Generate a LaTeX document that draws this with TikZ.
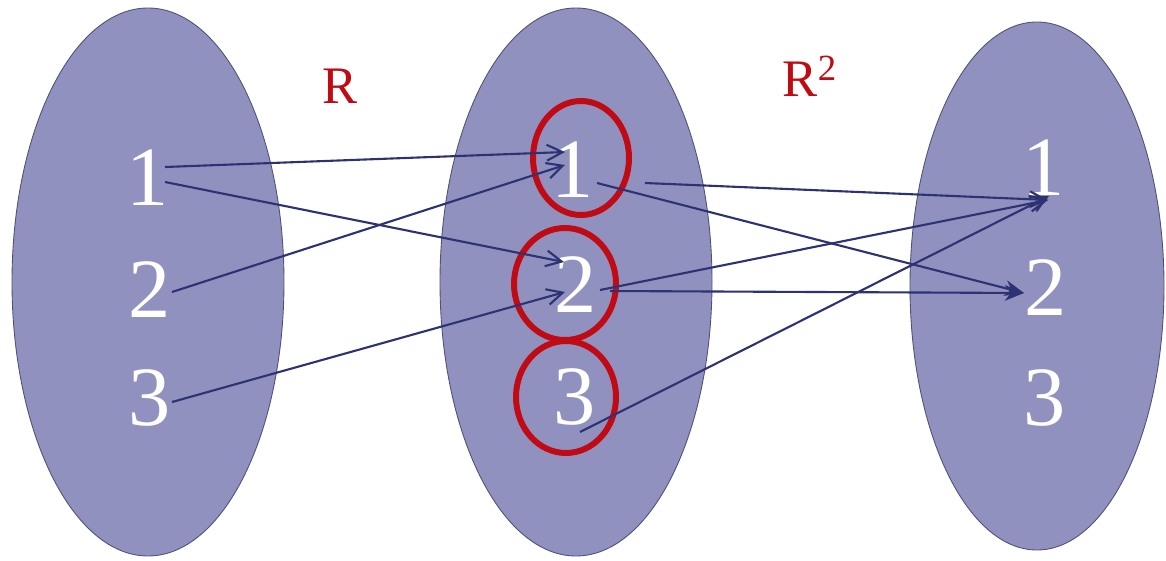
\documentclass[tikz,border=0pt]{standalone}
\usepackage{fontspec}
\setmainfont{Liberation Serif}
\usetikzlibrary{arrows.meta}
\definecolor{setfill}{RGB}{145,145,192}
\definecolor{setedge}{RGB}{80,80,120}
\definecolor{arr}{RGB}{45,50,115}
\definecolor{redc}{RGB}{192,10,20}
\begin{document}
\begin{tikzpicture}[x=0.02cm,y=-0.02cm,
  setell/.style={fill=setfill,draw=setedge,line width=0.5pt},
  num/.style={text=white,font=\fontsize{48}{48}\selectfont,inner sep=0pt},
  lab/.style={text=redc,font=\fontsize{30}{30}\selectfont,inner sep=0pt},
  ring/.style={draw=redc,line width=3.4pt},
  rel/.style={draw=arr,line width=1.2pt,-{Straight Barb[length=9pt,width=9pt,line width=1.2pt]}},
  relf/.style={draw=arr,line width=1.2pt,-{Stealth[length=11pt,width=9pt]}}]
\useasboundingbox (0,0) rectangle (1166,561);
\fill[white] (0,0) rectangle (1166,561);
% sets
\draw[setell] (148,282) ellipse [x radius=136, y radius=274];
\draw[setell] (576,282) ellipse [x radius=136, y radius=274];
\draw[setell] (1037,286) ellipse [x radius=127, y radius=264];
% labels
\node[lab] (R) at (340,86) {R};
\node[lab] (R2) at (810,76) {R\textsuperscript{2}};
% numbers
\node[num] (a1) at (148,178) {1};
\node[num] (a2) at (150,290) {2};
\node[num] (a3) at (150,398) {3};
\node[num] (b1) at (573,170) {1};
\node[num] (b2) at (576,285) {2};
\node[num] (b3) at (575,397) {3};
\node[num] (c1) at (1044,168) {1};
\node[num] (c2) at (1046,288) {2};
\node[num] (c3) at (1045,398) {3};
% red rings
\draw[ring] (581,158) ellipse [x radius=48, y radius=57];
\draw[ring] (565,284) ellipse [x radius=51, y radius=56];
\draw[ring] (566,397) ellipse [x radius=50, y radius=56];
% arrows R
\draw[rel] ([shift={(17,-11)}]a1.center) -- ([shift={(-8,-18)}]b1.center);
\draw[rel] ([shift={(17,4)}]a1.center) -- ([shift={(-12,-23)}]b2.center);
\draw[rel] ([shift={(22,2)}]a2.center) -- ([shift={(-8,-5)}]b1.center);
\draw[rel] ([shift={(22,4)}]a3.center) -- ([shift={(-11,7)}]b2.center);
% arrows R2
\draw[relf] ([shift={(24,13)}]b1.center) -- ([shift={(-22,5)}]c2.center);
\draw[rel] ([shift={(72,13)}]b1.center) -- ([shift={(4,32)}]c1.center);
\draw[rel] ([shift={(24,5)}]b2.center) -- ([shift={(4,32)}]c1.center);
\draw[relf] ([shift={(34,6)}]b2.center) -- ([shift={(-22,5)}]c2.center);
\draw[rel] ([shift={(5,35)}]b3.center) -- ([shift={(5,28)}]c1.center);
\end{tikzpicture}
\end{document}
